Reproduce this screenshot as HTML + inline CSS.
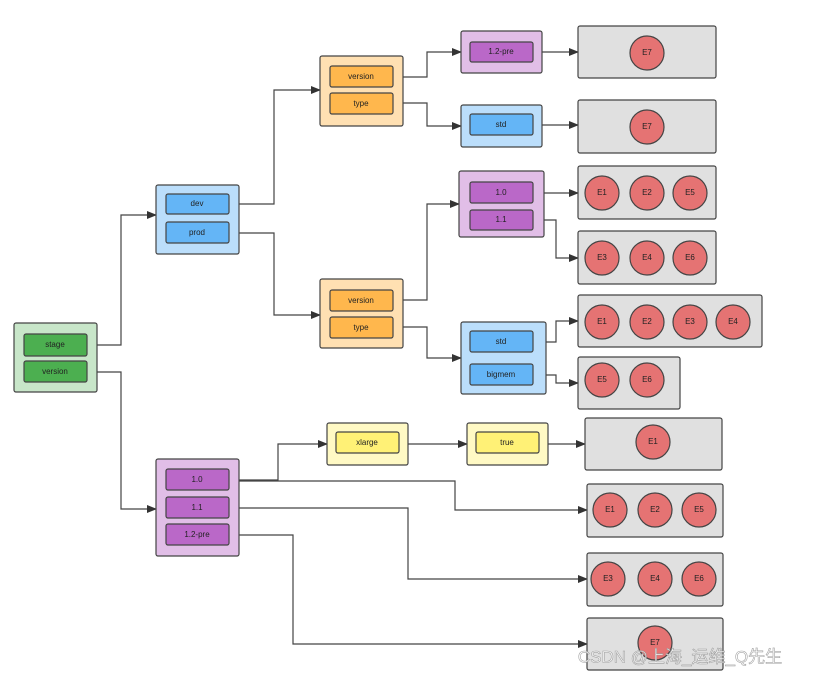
<!DOCTYPE html>
<html><head><meta charset="utf-8"><style>
body{margin:0;background:#fff;width:814px;height:678px;overflow:hidden}
svg text{font-family:"Liberation Sans",sans-serif;font-size:8px;fill:#222;text-anchor:middle;dominant-baseline:middle}
</style></head><body>
<svg width="814" height="678" xmlns="http://www.w3.org/2000/svg">
<defs><marker id="a" markerWidth="10" markerHeight="8" refX="9" refY="4" orient="auto" markerUnits="userSpaceOnUse"><path d="M0,0 L10,4 L0,8 z" fill="#333"/></marker></defs>
<g fill="none" stroke="#444" stroke-width="1.2" marker-end="url(#a)">
<polyline points="87,345 121,345 121,215 156,215"/>
<polyline points="87,372 121,372 121,509 156,509"/>
<polyline points="229,204 274,204 274,90 320,90"/>
<polyline points="229,233 274,233 274,315 320,315"/>
<polyline points="393,77 427,77 427,52 461,52"/>
<polyline points="393,103 427,103 427,126 461,126"/>
<polyline points="533,52 578,52"/>
<polyline points="533,125 578,125"/>
<polyline points="393,300 427,300 427,204 459,204"/>
<polyline points="393,327 427,327 427,358 461,358"/>
<polyline points="533,193 578,193"/>
<polyline points="533,220 556,220 556,258 578,258"/>
<polyline points="533,342 556,342 556,321 578,321"/>
<polyline points="533,375 556,375 556,383 578,383"/>
<polyline points="229,480 278,480 278,444 327,444"/>
<polyline points="229,481 455,481 455,510 587,510"/>
<polyline points="408,444 467,444"/>
<polyline points="548,444 585,444"/>
<polyline points="229,508 408,508 408,579 587,579"/>
<polyline points="229,535 293,535 293,644 587,644"/>
</g>
<g stroke="#444" stroke-width="1.2">
<rect x="14" y="323" width="83" height="69" rx="2" fill="#c8e6c9"/>
<rect x="24" y="334" width="63" height="22" rx="2" fill="#4caf50"/>
<rect x="24" y="361" width="63" height="21" rx="2" fill="#4caf50"/>
<rect x="156" y="185" width="83" height="69" rx="2" fill="#bbdefb"/>
<rect x="166" y="194" width="63" height="20" rx="2" fill="#64b5f6"/>
<rect x="166" y="222" width="63" height="21" rx="2" fill="#64b5f6"/>
<rect x="320" y="56" width="83" height="70" rx="2" fill="#ffe0b2"/>
<rect x="330" y="66" width="63" height="21" rx="2" fill="#ffb74d"/>
<rect x="330" y="93" width="63" height="21" rx="2" fill="#ffb74d"/>
<rect x="320" y="279" width="83" height="69" rx="2" fill="#ffe0b2"/>
<rect x="330" y="290" width="63" height="21" rx="2" fill="#ffb74d"/>
<rect x="330" y="317" width="63" height="21" rx="2" fill="#ffb74d"/>
<rect x="461" y="31" width="81" height="42" rx="2" fill="#e1bee7"/>
<rect x="470" y="42" width="63" height="20" rx="2" fill="#ba68c8"/>
<rect x="461" y="105" width="81" height="42" rx="2" fill="#bbdefb"/>
<rect x="470" y="114" width="63" height="21" rx="2" fill="#64b5f6"/>
<rect x="459" y="171" width="85" height="66" rx="2" fill="#e1bee7"/>
<rect x="470" y="182" width="63" height="21" rx="2" fill="#ba68c8"/>
<rect x="470" y="210" width="63" height="20" rx="2" fill="#ba68c8"/>
<rect x="461" y="322" width="85" height="72" rx="2" fill="#bbdefb"/>
<rect x="470" y="331" width="63" height="21" rx="2" fill="#64b5f6"/>
<rect x="470" y="364" width="63" height="21" rx="2" fill="#64b5f6"/>
<rect x="156" y="459" width="83" height="97" rx="2" fill="#e1bee7"/>
<rect x="166" y="469" width="63" height="21" rx="2" fill="#ba68c8"/>
<rect x="166" y="497" width="63" height="21" rx="2" fill="#ba68c8"/>
<rect x="166" y="524" width="63" height="21" rx="2" fill="#ba68c8"/>
<rect x="327" y="423" width="81" height="42" rx="2" fill="#fff9c4"/>
<rect x="336" y="432" width="63" height="21" rx="2" fill="#fff176"/>
<rect x="467" y="423" width="81" height="42" rx="2" fill="#fff9c4"/>
<rect x="476" y="432" width="63" height="21" rx="2" fill="#fff176"/>
<g fill="#e0e0e0">
<rect x="578" y="26" width="138" height="52" rx="2"/>
<rect x="578" y="100" width="138" height="53" rx="2"/>
<rect x="578" y="166" width="138" height="53" rx="2"/>
<rect x="578" y="231" width="138" height="53" rx="2"/>
<rect x="578" y="295" width="184" height="52" rx="2"/>
<rect x="578" y="357" width="102" height="52" rx="2"/>
<rect x="585" y="418" width="137" height="52" rx="2"/>
<rect x="587" y="484" width="136" height="53" rx="2"/>
<rect x="587" y="553" width="136" height="53" rx="2"/>
<rect x="587" y="618" width="136" height="52" rx="2"/>
</g>
<g fill="#e57373">
<circle cx="647" cy="53" r="17"/>
<circle cx="647" cy="127" r="17"/>
<circle cx="602" cy="193" r="17"/><circle cx="647" cy="193" r="17"/><circle cx="690" cy="193" r="17"/>
<circle cx="602" cy="258" r="17"/><circle cx="647" cy="258" r="17"/><circle cx="690" cy="258" r="17"/>
<circle cx="602" cy="322" r="17"/><circle cx="647" cy="322" r="17"/><circle cx="690" cy="322" r="17"/><circle cx="733" cy="322" r="17"/>
<circle cx="602" cy="380" r="17"/><circle cx="647" cy="380" r="17"/>
<circle cx="653" cy="442" r="17"/>
<circle cx="610" cy="510" r="17"/><circle cx="655" cy="510" r="17"/><circle cx="699" cy="510" r="17"/>
<circle cx="608" cy="579" r="17"/><circle cx="655" cy="579" r="17"/><circle cx="699" cy="579" r="17"/>
<circle cx="655" cy="643" r="17"/>
</g>
</g>
<text x="55" y="345">stage</text><text x="55" y="372">version</text>
<text x="197" y="204">dev</text><text x="197" y="233">prod</text>
<text x="361" y="77">version</text><text x="361" y="104">type</text>
<text x="361" y="301">version</text><text x="361" y="328">type</text>
<text x="501" y="52">1.2-pre</text><text x="501" y="125">std</text>
<text x="501" y="193">1.0</text><text x="501" y="220">1.1</text>
<text x="501" y="342">std</text><text x="501" y="375">bigmem</text>
<text x="197" y="480">1.0</text><text x="197" y="508">1.1</text><text x="197" y="535">1.2-pre</text>
<text x="367" y="443">xlarge</text><text x="507" y="443">true</text>
<text x="647" y="53">E7</text><text x="647" y="127">E7</text>
<text x="602" y="193">E1</text><text x="647" y="193">E2</text><text x="690" y="193">E5</text>
<text x="602" y="258">E3</text><text x="647" y="258">E4</text><text x="690" y="258">E6</text>
<text x="602" y="322">E1</text><text x="647" y="322">E2</text><text x="690" y="322">E3</text><text x="733" y="322">E4</text>
<text x="602" y="380">E5</text><text x="647" y="380">E6</text>
<text x="653" y="442">E1</text>
<text x="610" y="510">E1</text><text x="655" y="510">E2</text><text x="699" y="510">E5</text>
<text x="608" y="579">E3</text><text x="655" y="579">E4</text><text x="699" y="579">E6</text>
<text x="655" y="643">E7</text>
<text x="680" y="658" style="font-family:'Liberation Sans','Noto Sans CJK SC',sans-serif;font-size:17px;fill:#fff;stroke:#999;stroke-width:0.6;opacity:0.9">CSDN @上海_运维_Q先生</text>
</svg>
</body></html>
